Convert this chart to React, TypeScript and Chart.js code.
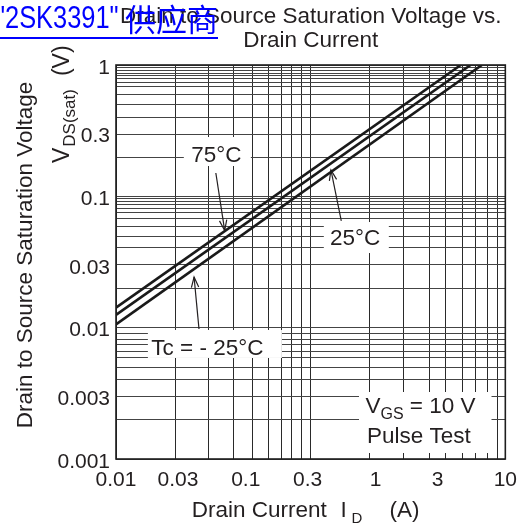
import React, { useEffect, useRef } from 'react';
import { Chart, registerables } from 'chart.js';

Chart.register(...registerables);

// ---------------- data ----------------
const X_MIN = 0.01;
const X_MAX = 10;
const Y_MIN = 0.001;
const Y_MAX = 1;

const X_TICK_VALUES = [0.01, 0.03, 0.1, 0.3, 1, 3, 10];
const X_TICK_LABELS = ['0.01', '0.03', '0.1', '0.3', '1', '3', '10'];
const Y_TICK_VALUES = [0.001, 0.003, 0.01, 0.03, 0.1, 0.3, 1];
const Y_TICK_LABELS = ['0.001', '0.003', '0.01', '0.03', '0.1', '0.3', '1'];

// grid lines as printed on the sheet
const X_GRID_VALUES = [
  0.01, 0.0286, 0.052, 0.0805, 0.1125, 0.149, 0.187, 0.2265, 0.27, 0.316,
  0.906, 1.64, 2.59, 3.43, 4.71, 5.91, 7.3, 8.69, 10,
];
const Y_GRID_VALUES = [
  1, 0.954, 0.911, 0.865, 0.829, 0.792, 0.738, 0.684, 0.598, 0.496, 0.397, 0.297, 0.197,
  0.1, 0.0955, 0.0916, 0.0865, 0.0806, 0.0747, 0.0676, 0.0591, 0.0496, 0.0405, 0.0302, 0.02,
  0.01, 0.00895, 0.00816, 0.00747, 0.00656, 0.0059, 0.00496, 0.004, 0.00298, 0.002, 0.001,
];

// series: drain current ID (A) -> VDS(sat) (V)
const ID_75 = [0.01, 4.54];
const VDS_75 = [0.0142, 1];
const ID_25 = [0.01, 5.4];
const VDS_25 = [0.0125, 1];
const ID_M25 = [0.01, 6.6];
const VDS_M25 = [0.0106, 1];

// annotation anchors (data coordinates)
const LABEL_TEXTS = ['75°C', '25°C', 'Tc = - 25°C'];
const LABEL_X = [0.0593, 0.696, 0.0506];
const LABEL_Y = [0.21, 0.049, 0.00713];
const ARROW_FROM_X = [0.0588, 0.5445, 0.0436];
const ARROW_FROM_Y = [0.1506, 0.0649, 0.00977];
const ARROW_TO_X = [0.0688, 0.453, 0.03996];
const ARROW_TO_Y = [0.0549, 0.1587, 0.0243];
const NOTE_X = 0.8367;
const NOTE_Y = 0.00224;

// ---------------- styles ----------------
const FONT = '"Liberation Sans", Arial, Helvetica, sans-serif';
const INK = '#231f20';
const LABEL_BOXES = [
  [-32.5, -17, 34.5, 12],
  [-31.3, -15, 33.7, 16],
  [-59.5, -17, 74.5, 11],
];

function drawArrow(ctx: CanvasRenderingContext2D, x1: number, y1: number, x2: number, y2: number) {
  ctx.beginPath();
  ctx.moveTo(x1, y1);
  ctx.lineTo(x2, y2);
  ctx.stroke();
  const a = Math.atan2(y2 - y1, x2 - x1);
  const L = 11;
  const h = 0.34;
  ctx.beginPath();
  ctx.moveTo(x2 - L * Math.cos(a - h), y2 - L * Math.sin(a - h));
  ctx.lineTo(x2, y2);
  ctx.lineTo(x2 - L * Math.cos(a + h), y2 - L * Math.sin(a + h));
  ctx.stroke();
}

const annotationPlugin = {
  id: 'sheetAnnotations',
  beforeDatasetsDraw(chart: any) {
    const ctx: CanvasRenderingContext2D = chart.ctx;
    const xs = chart.scales.x;
    const ys = chart.scales.y;
    ctx.save();
    // labels with white boxes
    ctx.font = `22.5px ${FONT}`;
    ctx.textAlign = 'center';
    ctx.textBaseline = 'alphabetic';
    LABEL_TEXTS.forEach((t, i) => {
      const cx = xs.getPixelForValue(LABEL_X[i]);
      const cy = ys.getPixelForValue(LABEL_Y[i]);
      const b = LABEL_BOXES[i];
      ctx.fillStyle = '#ffffff';
      ctx.fillRect(cx + b[0], cy + b[1], b[2] - b[0], b[3] - b[1]);
      ctx.fillStyle = INK;
      ctx.fillText(t, cx, cy + 8);
    });
    // arrows
    ctx.strokeStyle = INK;
    ctx.lineWidth = 1.2;
    ARROW_FROM_X.forEach((_, i) => {
      drawArrow(
        ctx,
        xs.getPixelForValue(ARROW_FROM_X[i]),
        ys.getPixelForValue(ARROW_FROM_Y[i]),
        xs.getPixelForValue(ARROW_TO_X[i]),
        ys.getPixelForValue(ARROW_TO_Y[i]),
      );
    });
    // VGS note
    const nx = xs.getPixelForValue(NOTE_X);
    const ny = ys.getPixelForValue(NOTE_Y);
    ctx.fillStyle = '#ffffff';
    ctx.fillRect(nx - 6.5, ny - 21, 132.5, 61);
    ctx.fillStyle = INK;
    ctx.textAlign = 'left';
    let x = nx;
    ctx.font = `22.5px ${FONT}`;
    ctx.fillText('V', x, ny);
    x += ctx.measureText('V').width;
    ctx.font = `16px ${FONT}`;
    ctx.fillText('GS', x, ny + 6);
    x += ctx.measureText('GS').width;
    ctx.font = `22.5px ${FONT}`;
    ctx.fillText(' = 10 V', x, ny);
    ctx.fillText('Pulse Test', nx + 1.5, ny + 30);
    ctx.restore();
  },
  afterDraw(chart: any) {
    const ctx: CanvasRenderingContext2D = chart.ctx;
    const a = chart.chartArea;
    ctx.save();
    // frame
    ctx.strokeStyle = '#1e1e1e';
    ctx.lineWidth = 1.6;
    ctx.strokeRect(a.left, a.top, a.right - a.left, a.bottom - a.top);
    // title
    ctx.fillStyle = INK;
    ctx.font = `22.5px ${FONT}`;
    ctx.textAlign = 'center';
    ctx.textBaseline = 'alphabetic';
    const cx = (a.left + a.right) / 2;
    ctx.fillText('Drain to Source Saturation Voltage vs.', cx, a.top - 42.3);
    ctx.fillText('Drain Current', cx, a.top - 18.3);
    // x axis title
    ctx.textAlign = 'left';
    ctx.fillText('Drain Current', 191.7, a.bottom + 57.5);
    ctx.fillText('I', 340.5, a.bottom + 57.5);
    ctx.font = `15px ${FONT}`;
    ctx.fillText('D', 351.5, a.bottom + 64);
    ctx.font = `22.5px ${FONT}`;
    ctx.fillText('(A)', 389.5, a.bottom + 57.5);
    // y axis titles (rotated)
    ctx.save();
    ctx.translate(31.5, 255);
    ctx.rotate(-Math.PI / 2);
    ctx.textAlign = 'center';
    ctx.fillText('Drain to Source Saturation Voltage', 0, 0);
    ctx.restore();
    ctx.save();
    ctx.translate(69, 163);
    ctx.rotate(-Math.PI / 2);
    ctx.textAlign = 'left';
    let u = 0;
    ctx.font = `23px ${FONT}`;
    ctx.fillText('V', u, 0);
    u += ctx.measureText('V').width + 1;
    ctx.font = `17px ${FONT}`;
    ctx.fillText('DS(sat)', u, 5.5);
    u += ctx.measureText('DS(sat)').width + 13;
    ctx.font = `23px ${FONT}`;
    ctx.fillText('(V)', u, 0);
    ctx.restore();
    ctx.restore();
  },
};

function pts(xs: number[], ys: number[]) {
  return xs.map((x, i) => ({ x, y: ys[i] }));
}

export default function App() {
  const ref = useRef<HTMLCanvasElement | null>(null);

  useEffect(() => {
    if (!ref.current) return;
    const lineStyle = {
      borderColor: '#1a1a1a',
      borderWidth: 2.6,
      pointRadius: 0,
      fill: false,
      tension: 0,
      xAxisID: 'x',
      yAxisID: 'y',
    };
    const chart = new Chart(ref.current, {
      type: 'line',
      data: {
        datasets: [
          { label: '75°C', data: pts(ID_75, VDS_75), ...lineStyle },
          { label: '25°C', data: pts(ID_25, VDS_25), ...lineStyle },
          { label: 'Tc = -25°C', data: pts(ID_M25, VDS_M25), ...lineStyle },
        ],
      },
      options: {
        animation: false,
        responsive: false,
        maintainAspectRatio: false,
        parsing: false as any,
        layout: { padding: { top: 65, right: 16, left: 0, bottom: 0 } },
        plugins: {
          legend: { display: false },
          tooltip: { enabled: false },
          title: { display: false },
        },
        scales: {
          xg: {
            type: 'logarithmic',
            position: 'bottom',
            min: X_MIN,
            max: X_MAX,
            afterBuildTicks: (s: any) => {
              s.ticks = X_GRID_VALUES.map((value) => ({ value }));
            },
            ticks: { display: false },
            grid: { color: '#2a2a2a', lineWidth: 1, drawTicks: false },
            border: { display: false },
            afterFit: (s: any) => {
              s.height = 0;
            },
          },
          x: {
            type: 'logarithmic',
            position: 'bottom',
            min: X_MIN,
            max: X_MAX,
            afterBuildTicks: (s: any) => {
              s.ticks = X_TICK_VALUES.map((value) => ({ value }));
            },
            ticks: {
              autoSkip: false,
              maxRotation: 0,
              minRotation: 0,
              padding: 9,
              color: INK,
              font: { family: FONT, size: 21 },
              callback: (_v: any, i: number) => X_TICK_LABELS[i] ?? '',
            },
            grid: { display: false, drawTicks: false },
            border: { display: false },
            afterFit: (s: any) => {
              s.height = 70;
            },
          },
          yg: {
            type: 'logarithmic',
            position: 'left',
            min: Y_MIN,
            max: Y_MAX,
            afterBuildTicks: (s: any) => {
              s.ticks = Y_GRID_VALUES.map((value) => ({ value }));
            },
            ticks: { display: false },
            grid: { color: '#444444', lineWidth: 1, drawTicks: false },
            border: { display: false },
            afterFit: (s: any) => {
              s.width = 0;
            },
          },
          y: {
            type: 'logarithmic',
            position: 'left',
            min: Y_MIN,
            max: Y_MAX,
            afterBuildTicks: (s: any) => {
              s.ticks = Y_TICK_VALUES.map((value) => ({ value }));
            },
            ticks: {
              autoSkip: false,
              padding: 6,
              labelOffset: 3,
              color: INK,
              font: { family: FONT, size: 21 },
              callback: (_v: any, i: number) => Y_TICK_LABELS[i] ?? '',
            },
            grid: { display: false, drawTicks: false },
            border: { display: false },
            afterFit: (s: any) => {
              s.width = 116;
            },
          },
        },
      } as any,
      plugins: [annotationPlugin],
    });
    return () => chart.destroy();
  }, []);

  return (
    <div style={{ position: 'fixed', left: 0, top: 0, width: 526, height: 529, background: '#ffffff', overflow: 'hidden' }}>
      <canvas ref={ref} width={526} height={529} style={{ display: 'block' }} />
      <a
        href="#"
        style={{
          position: 'absolute',
          left: 0,
          top: 0,
          width: 218,
          height: 37,
          borderBottom: '2px solid #0000ff',
          textDecoration: 'none',
          color: '#0000ff',
        }}
      >
        <span
          style={{
            position: 'absolute',
            left: -4,
            top: 2,
            fontFamily: FONT,
            fontSize: 31,
            lineHeight: '31px',
            whiteSpace: 'nowrap',
            transform: 'scaleX(0.82)',
            transformOrigin: '0 0',
            display: 'inline-block',
          }}
        >
          {'"2SK3391"'}
        </span>
        <span
          style={{
            position: 'absolute',
            left: 125,
            top: 2,
            fontFamily: '"Noto Sans CJK SC", sans-serif',
            fontSize: 31,
            lineHeight: '31px',
            whiteSpace: 'nowrap',
          }}
        >
          供应商
        </span>
      </a>
    </div>
  );
}
